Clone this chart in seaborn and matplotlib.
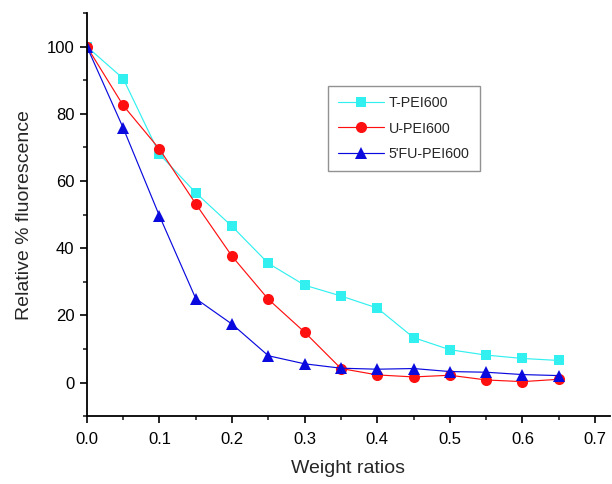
import pandas as pd
import numpy as np
import seaborn as sns
import matplotlib.pyplot as plt
from matplotlib.ticker import MultipleLocator

# dati
ratios = [0.0, 0.05, 0.1, 0.15, 0.2, 0.25, 0.3, 0.35, 0.4, 0.45, 0.5, 0.55, 0.6, 0.65]
t_pei = [100, 90.5, 68, 56.5, 46.5, 35.5, 29, 25.8, 22.2, 13.4, 9.8, 8.2, 7.2, 6.6]
u_pei = [100, 82.5, 69.5, 53.2, 37.6, 24.8, 15, 4.2, 2.3, 1.7, 2.2, 0.8, 0.3, 1.0]
fu_pei = [100, 75.8, 49.6, 25, 17.4, 8, 5.6, 4.3, 4.0, 4.2, 3.3, 3.1, 2.4, 2.1]
series_names = ['T-PEI600', 'U-PEI600', "5'FU-PEI600"]

df = pd.DataFrame({
    'ratio': ratios * 3,
    'value': t_pei + u_pei + fu_pei,
    'serie': np.repeat(series_names, len(ratios)),
})

sns.set_style('ticks')
plt.rcParams['font.family'] = ['Liberation Sans', 'DejaVu Sans']

fig = plt.figure(figsize=(6.12, 4.84), dpi=100)
ax = fig.add_axes([0.142, 0.14, 0.854, 0.833])

palette = {'T-PEI600': '#33f0f0', 'U-PEI600': '#ff1010', "5'FU-PEI600": '#0a0adf'}
markers = {'T-PEI600': 's', 'U-PEI600': 'o', "5'FU-PEI600": '^'}
sizes = {'T-PEI600': 7, 'U-PEI600': 8, "5'FU-PEI600": 8}

for name in series_names:
    sub = df[df['serie'] == name]
    sns.lineplot(data=sub, x='ratio', y='value', ax=ax, color=palette[name],
                 marker=markers[name], markersize=sizes[name], markeredgewidth=0,
                 linewidth=0.85, label=name)

ax.set_xlim(0, 0.72)
ax.set_ylim(-10, 110)
ax.xaxis.set_minor_locator(MultipleLocator(0.05))
ax.yaxis.set_major_locator(MultipleLocator(20))
ax.yaxis.set_minor_locator(MultipleLocator(10))
ax.set_xticks(np.arange(0, 0.71, 0.1))
ax.set_xticklabels(['0.0', '0.1', '0.2', '0.3', '0.4', '0.5', '0.6', '0.7'])
ax.tick_params(which='major', length=5, width=1.2, labelsize=12, colors='black', pad=4)
ax.tick_params(axis='x', which='major', pad=6)
ax.tick_params(which='minor', length=3, width=1.2)
for s in ['top', 'right']:
    ax.spines[s].set_visible(False)
for s in ['left', 'bottom']:
    ax.spines[s].set_linewidth(1.3)
    ax.spines[s].set_color('black')

ax.set_xlabel('Weight ratios', fontsize=14, labelpad=10)
ax.set_ylabel('Relative % fluorescence', fontsize=14, labelpad=10)

leg = ax.legend(loc='upper left', bbox_to_anchor=(0.4614, 0.819), borderaxespad=0,
                fontsize=10.3, frameon=True, fancybox=False, edgecolor='#777777',
                handlelength=3.2, handletextpad=0.35, borderpad=0.7, labelspacing=0.8)
leg.get_frame().set_linewidth(1.0)

plt.savefig('out.png', dpi=100)
